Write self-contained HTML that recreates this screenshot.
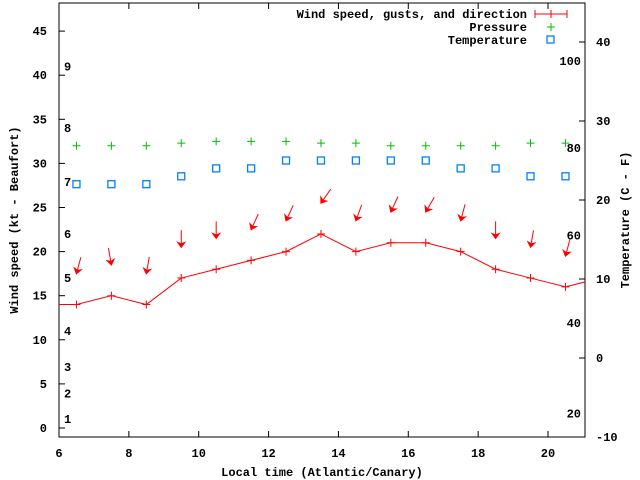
<!DOCTYPE html>
<html><head><meta charset="utf-8"><style>
body{margin:0;background:#fff}
svg{display:block}
text{font-family:"Liberation Mono","DejaVu Sans Mono",monospace;font-size:12px;font-weight:bold;fill:#000}
</style></head><body>
<svg id="chart" width="640" height="480" viewBox="0 0 640 480" xmlns="http://www.w3.org/2000/svg">
<rect x="0" y="0" width="640" height="480" fill="#fff"/>
<g id="axes"></g><g id="marks"></g>
<text transform="translate(18,220) rotate(-90)" text-anchor="middle">Wind speed (kt - Beaufort)</text>
<text transform="translate(629,220) rotate(-90)" text-anchor="middle">Temperature (C - F)</text>
<text x="322" y="476" text-anchor="middle">Local time (Atlantic/Canary)</text>
<g>
<text x="527" y="18" text-anchor="end">Wind speed, gusts, and direction</text>
<line x1="535" y1="14" x2="567" y2="14" stroke="#f00"/><line x1="535" y1="10" x2="535" y2="18" stroke="#f00"/><line x1="567" y1="10" x2="567" y2="18" stroke="#f00"/><line x1="551" y1="10" x2="551" y2="18" stroke="#f00"/>
<text x="527" y="31" text-anchor="end">Pressure</text>
<path d="M547,27h8M551,23v8" stroke="#00c000"/>
<text x="527" y="44" text-anchor="end">Temperature</text>
<rect x="547" y="36" width="7" height="7" fill="none" stroke="#0080ff" stroke-width="1.3"/>
</g>
</svg>
<script>
const hours=[6.5,7.5,8.5,9.5,10.5,11.5,12.5,13.5,14.5,15.5,16.5,17.5,18.5,19.5,20.5];
const windSpeed=[14,15,14,17,18,19,20,22,20,21,21,20,18,17,16];
const windLineStart=14, windLineEnd=17;
const gust=[17.5,18.5,17.5,20.5,21.5,22.5,23.5,25.5,23.5,24.5,24.5,23.5,21.5,20.5,19.5];
const windDir=[15,-10,10,0,0,25,25,35,20,25,30,15,0,10,15];
const pressure=[32,32,32,32.3,32.5,32.5,32.5,32.3,32.3,32,32,32,32,32.3,32.3];
const temperature=[22,22,22,23,24,24,25,25,25,25,25,24,24,23,23];
const xTicks=[6,8,10,12,14,16,18,20];
const yTicks=[0,5,10,15,20,25,30,35,40,45];
const y2Ticks=[-10,0,10,20,30,40];
const beaufort=[[1,1],[2,3.9],[3,6.9],[4,11],[5,17],[6,22],[7,27.9],[8,34],[9,41]];
const fahrenheit=[[20,-7],[40,4.4],[60,15.5],[80,26.6],[100,37.6]];
const L=59,R=585,T=3,B=437;
const xs=v=>59+(v-6)*(489/14);
const ys=v=>428-v*8.82;
const y2s=v=>358-v*7.9;
const NS='http://www.w3.org/2000/svg';
const ax=document.getElementById('axes'),mk=document.getElementById('marks');
function el(p,t,a){const e=document.createElementNS(NS,t);for(const k in a)e.setAttribute(k,a[k]);p.appendChild(e);return e;}
const frame=el(ax,'rect',{x:L,y:T,width:R-L,height:B-T,fill:'none',stroke:'#000'});


xTicks.forEach(v=>{const x=xs(v);
 el(ax,'line',{x1:x,y1:B,x2:x,y2:B-6,stroke:'#000'});el(ax,'line',{x1:x,y1:T,x2:x,y2:T+6,stroke:'#000'});
 const t=el(ax,'text',{x:x,y:B+20,'text-anchor':'middle'});t.textContent=v;
 
 });
yTicks.forEach(v=>{const y=ys(v);
 el(ax,'line',{x1:L,y1:y,x2:L+6,y2:y,stroke:'#000'});
 const t=el(ax,'text',{x:47,y:y+4,'text-anchor':'end'});t.textContent=v;
 
 });
y2Ticks.forEach(v=>{const y=y2s(v);
 el(ax,'line',{x1:R,y1:y,x2:R-6,y2:y,stroke:'#000'});
 const t=el(ax,'text',{x:596,y:y+4});t.textContent=v;
 
 });
beaufort.forEach(b=>{const t=el(ax,'text',{x:64,y:ys(b[1])+4});t.textContent=b[0];
 
 });
fahrenheit.forEach(f=>{const t=el(ax,'text',{x:581,y:y2s(f[1])+4,'text-anchor':'end'});t.textContent=f[0];
 
 });
let pts=[[L,ys(windLineStart)]];hours.forEach((h,i)=>pts.push([xs(h),ys(windSpeed[i])]));pts.push([xs(21.5),ys(windLineEnd)]);
const cp=el(mk,'clipPath',{id:'clip'});el(cp,'rect',{x:L,y:T,width:R-L,height:B-T});
const pl=el(mk,'polyline',{points:pts.map(p=>p.join(',')).join(' '),fill:'none',stroke:'#f00','clip-path':'url(#clip)'});


hours.forEach((h,i)=>{const x=xs(h),y=ys(windSpeed[i]);
 const p=el(mk,'path',{d:`M${x-4},${y}h8M${x},${y-4}v8`,stroke:'#f00'});
 
 
 const hy=ys(gust[i]),len=17;
 const g=el(mk,'g',{transform:`translate(${x},${hy}) rotate(${windDir[i]})`});
 
 
 el(g,'line',{x1:0,y1:-len,x2:0,y2:0,stroke:'#f00'});
 el(g,'path',{d:'M0,1L-5,-6L0,-4L5,-6Z',fill:'#f00'});
 const px=x,py=ys(pressure[i]);
 const pp=el(mk,'path',{d:`M${px-4},${py}h8M${px},${py-4}v8`,stroke:'#00c000'});
 
 
 const ty=y2s(temperature[i]);
 const r=el(mk,'rect',{x:x-3.5,y:ty-3.5,width:7,height:7,fill:'none',stroke:'#0080ff','stroke-width':1.3});
 
 
});
</script>
</body></html>
